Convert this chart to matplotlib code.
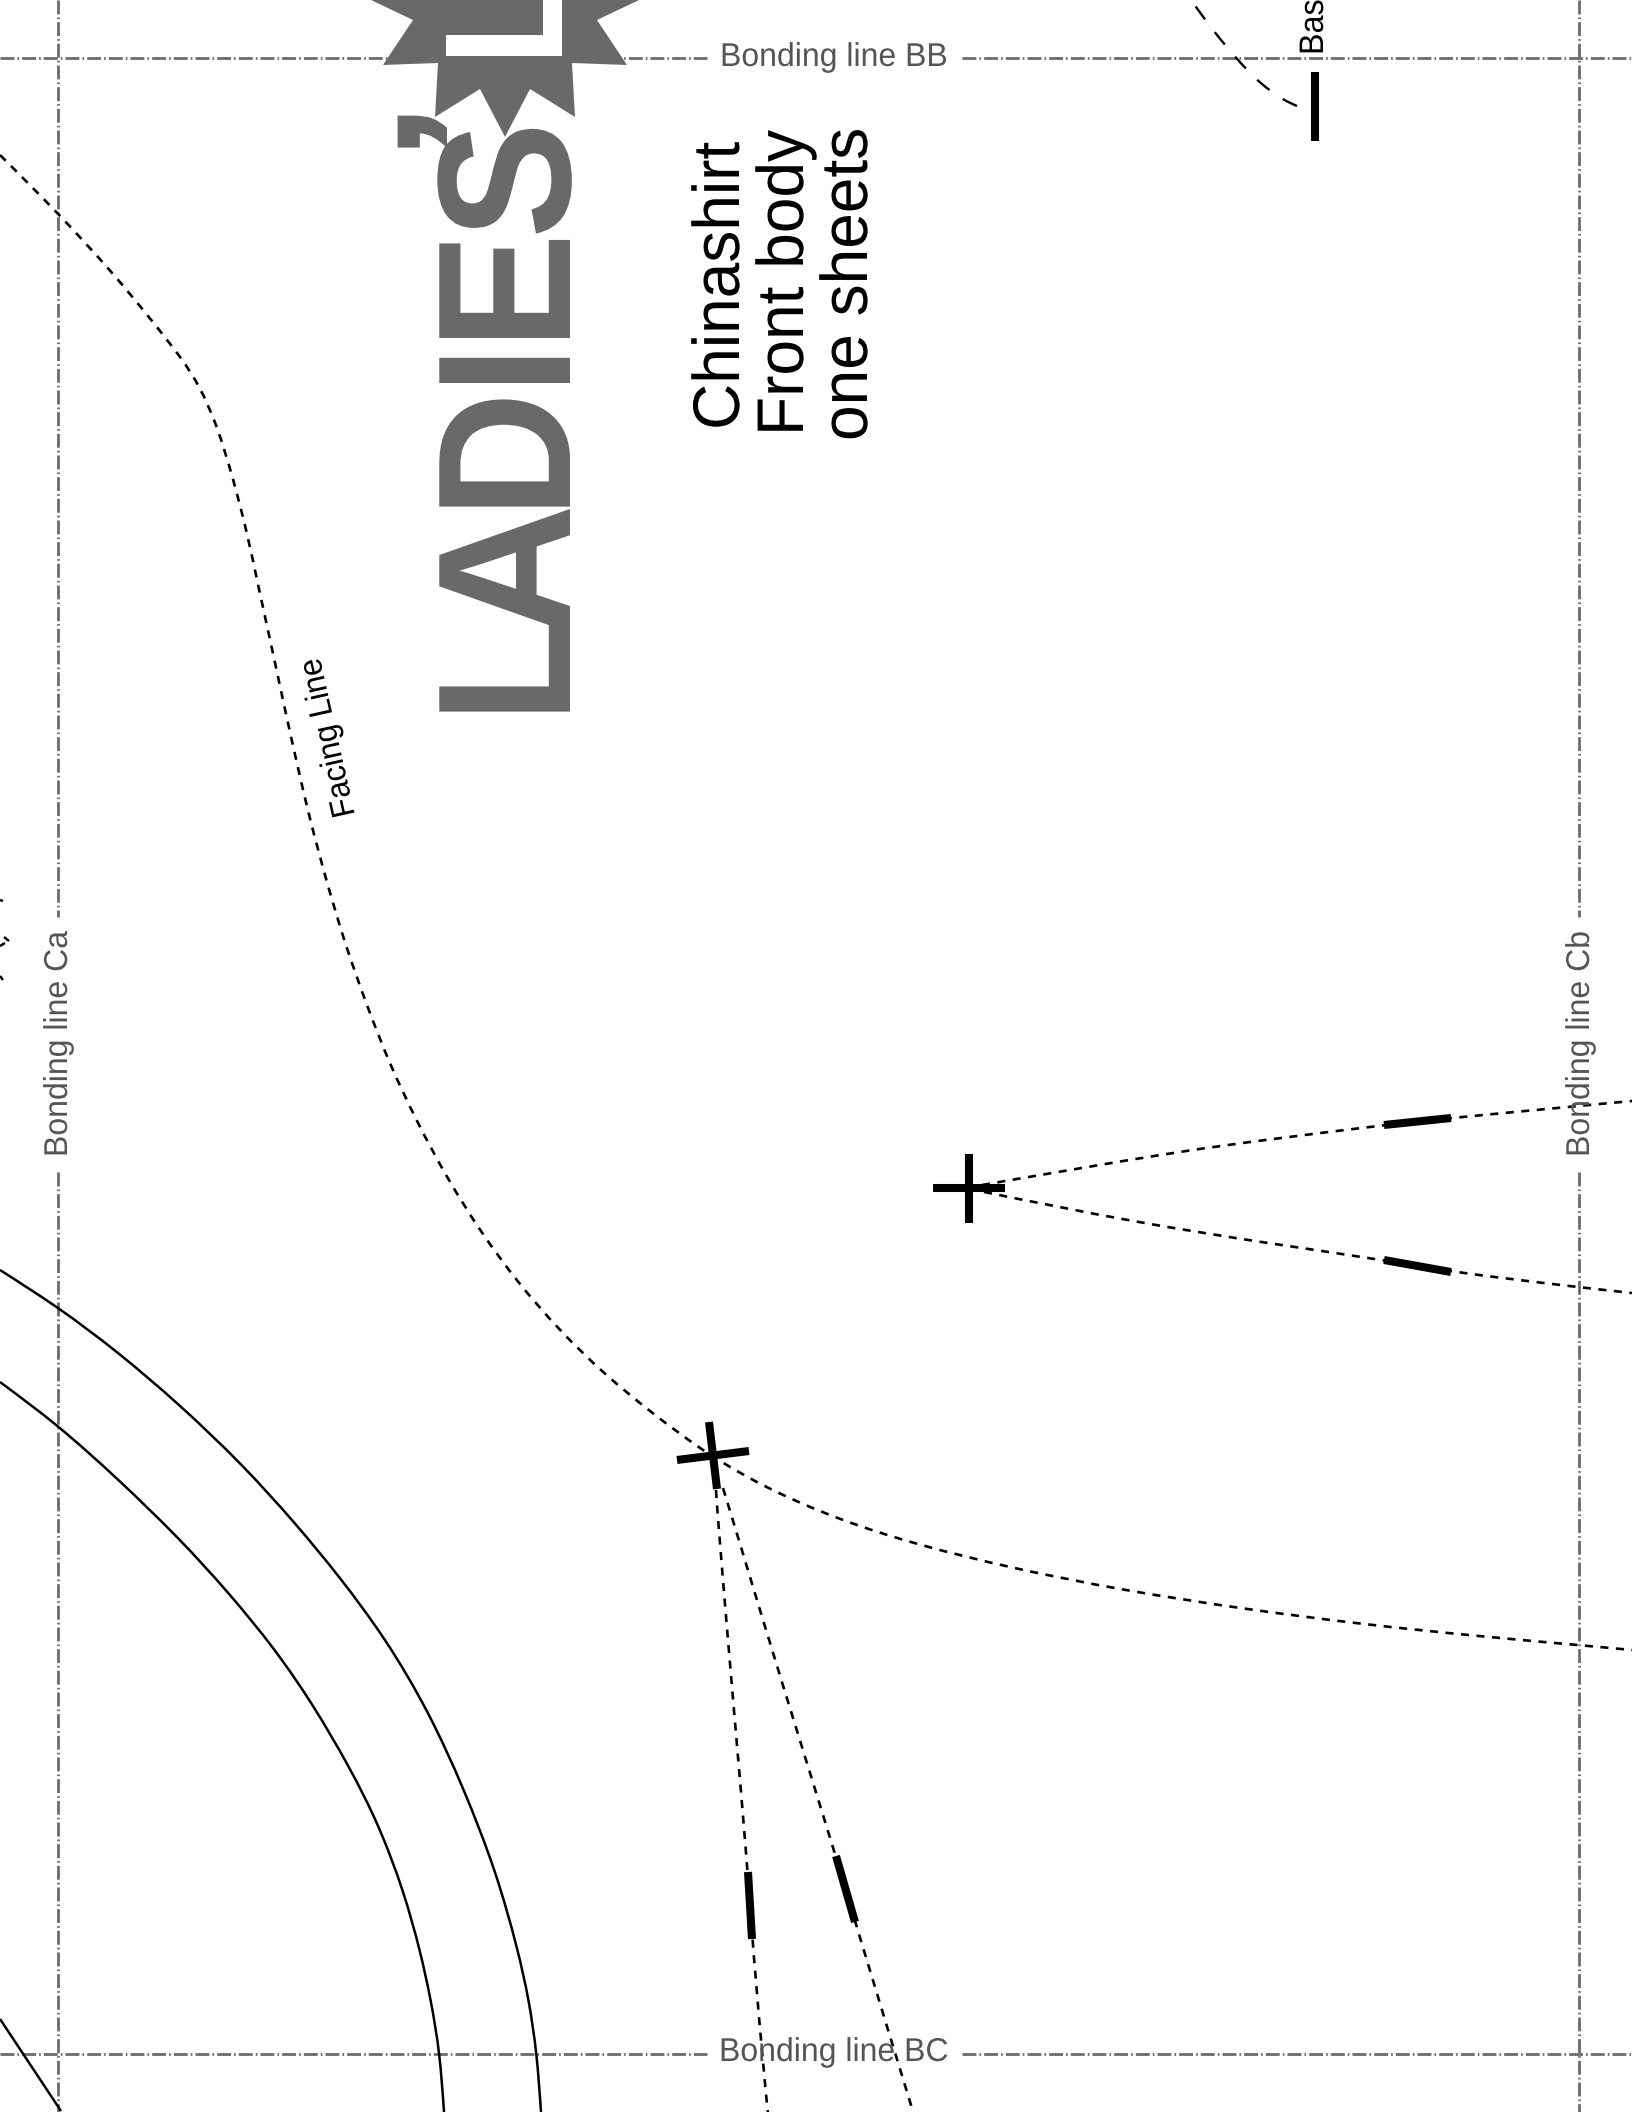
import numpy as np
import matplotlib
matplotlib.use("Agg")
import matplotlib.pyplot as plt
import matplotlib.patheffects as pe
from matplotlib.patches import PathPatch
from matplotlib.path import Path

plt.rcParams['font.family'] = ['Liberation Sans', 'DejaVu Sans']
plt.rcParams['lines.scale_dashes'] = False

# guide lines, read in page pixels
guide_h_y = [58, 2054]
guide_v_x = [58, 1579]
guide_h_spans = [(0, 707), (962, 1632)]
guide_v_spans = [(0, 917), (1172, 2112)]

# curves
facing_line = [(0, 155), (58, 213), (113, 273), (153, 322), (183, 360), (200, 387), (217, 425), (233, 478),
               (247, 532), (258, 585), (270, 639), (285, 710), (298, 768), (310, 820), (327, 883), (345, 944),
               (367, 1006), (390, 1065), (417, 1122), (447, 1178), (480, 1231), (518, 1283), (560, 1331),
               (605, 1375), (657, 1417), (698, 1447), (723, 1463), (766, 1488), (839, 1520), (918, 1545),
               (1011, 1568), (1121, 1590), (1244, 1609), (1360, 1624), (1476, 1636), (1578, 1645), (1632, 1650)]
base_curve = [(1297, 106), (1283, 100), (1258, 82), (1236, 58), (1215, 33), (1196, 7), (1191, 0)]
dart_upper = [(982, 1185), (1180, 1151), (1273, 1139), (1384, 1125), (1451, 1118), (1578, 1106), (1632, 1101)]
dart_lower = [(984, 1192), (1133, 1222), (1273, 1244), (1384, 1260), (1451, 1272), (1577, 1287), (1632, 1293)]
dart_left = [(716, 1490), (719, 1533), (733, 1700), (748, 1872), (752, 1939), (767, 2107), (768, 2112)]
dart_right = [(723, 1488), (738, 1537), (785, 1693), (836, 1856), (855, 1922), (912, 2108), (913, 2112)]

arc_outer = [(0, 1270), (58, 1307), (118, 1352), (179, 1404), (243, 1465), (296, 1524), (339, 1576), (386, 1639),
             (429, 1712), (464, 1789), (496, 1871), (518, 1950), (529, 2000), (537, 2054), (541, 2112)]
arc_inner = [(0, 1382), (58, 1425), (118, 1479), (179, 1538), (229, 1593), (275, 1649), (314, 1706), (350, 1768),
             (379, 1825), (404, 1892), (420, 1950), (431, 2000), (440, 2054), (444, 2112)]
corner_line = [(0, 2019), (61, 2111)]
edge_bits = [[(0, 900), (3, 901)], [(4, 937), (9, 941)], [(0, 946), (5, 943)], [(0, 976), (3, 980)]]

# thick marks
bars = [[(1314.5, 72), (1314.5, 141)], [(1384, 1125), (1451, 1118)], [(1384, 1260), (1451, 1272)],
        [(748, 1872), (752, 1939)], [(836, 1856), (855, 1922)],
        [(933, 1188), (1005, 1188)], [(969, 1154), (969, 1223)],
        [(677, 1460), (749, 1451)], [(709, 1422), (717, 1489)]]

star = [(639, 0), (597, 20), (627, 65), (572, 63), (575, 117), (530, 89), (505, 137), (480, 89), (435, 117),
        (438, 63), (383, 65), (413, 20), (371, 0)]

# sheet labels
sheet_lines = ['Chinashirt', 'Front body', 'one sheets']
sheet_x = [739, 803, 867]
sheet_y = [430, 436, 441]
bond_labels = ['Bonding line BB', 'Bonding line BC', 'Bonding line Ca', 'Bonding line Cb']
bond_x = [720, 719, 67, 1589]
bond_y = [66, 2061, 1157, 1157]
bond_rot = [0, 0, 90, 90]

ladies_lefts = [0, 79, 205, 328.6, 373.6, 478]
ladies_adv = [61.1, 133.3, 205.5, 233.3, 300]
ladies_sx = [0.92, 0.97, 0.92, 0.92, 0.92, 0.92]


class Squeeze(pe.AbstractPathEffect):
    # squeezes glyphs along the baseline, the reference text is condensed
    def __init__(self, sx, em=None, lefts=None, adv=()):
        super().__init__()
        self.sx, self.em, self.lefts, self.adv = sx, em, lefts, adv

    def draw_path(self, renderer, gc, tpath, affine, rgbFace=None):
        verts = tpath.vertices.copy()
        codes = tpath.codes
        if self.lefts is None:
            verts[:, 0] *= self.sx
        else:
            starts = list(np.flatnonzero(codes == Path.MOVETO)) + [len(codes)]
            glyph = np.zeros(len(codes), dtype=int)
            for a, b in zip(starts[:-1], starts[1:]):
                keep = codes[a:b] != Path.CLOSEPOLY
                glyph[a:b] = np.searchsorted(self.adv, verts[a:b][keep, 0].mean())
            keep = codes != Path.CLOSEPOLY
            unit = self.em / 100
            sxs = self.sx if np.ndim(self.sx) else [self.sx] * len(self.lefts)
            for i, left in enumerate(self.lefts):
                mask = glyph == i
                verts[mask, 0] = (verts[mask, 0] - verts[mask & keep, 0].min()) * sxs[i] + left / unit
        renderer.draw_path(gc, Path(verts, codes), affine, rgbFace)


def smooth(pts):
    # cubic b-spline through the read points, written as bezier segments
    pts = np.array(pts, dtype=float)
    if len(pts) == 2:
        return Path(pts, [Path.MOVETO, Path.LINETO])
    p = np.vstack([2 * pts[0] - pts[1], pts, 2 * pts[-1] - pts[-2]])
    verts = [(p[0] + 4 * p[1] + p[2]) / 6]
    codes = [Path.MOVETO]
    for i in range(1, len(p) - 2):
        verts += [(2 * p[i] + p[i + 1]) / 3, (p[i] + 2 * p[i + 1]) / 3, (p[i] + 4 * p[i + 1] + p[i + 2]) / 6]
        codes += [Path.CURVE4, Path.CURVE4, Path.CURVE4]
    return Path(verts, codes)


def draw_curve(ax, pts, lw, dashes=None):
    ls = '-' if dashes is None else (0, dashes)
    ax.add_patch(PathPatch(smooth(pts), fill=False, edgecolor='black', lw=lw, linestyle=ls,
                           capstyle='butt', zorder=2))


def label(ax, x, y, s, px, sx, color, rot, weight='normal', effect=None, zorder=6):
    t = ax.text(x, y, s, fontsize=px * 0.72, color=color, rotation=rot, rotation_mode='anchor',
                ha='left', va='baseline', fontweight=weight, zorder=zorder)
    t.set_path_effects([effect if effect is not None else Squeeze(sx)])
    return t


fig = plt.figure(figsize=(16.32, 21.12), dpi=100)
ax = fig.add_axes([0, 0, 1, 1])
ax.set_xlim(0, 1632)
ax.set_ylim(2112, 0)
ax.axis('off')

# bonding guides
grid_dash = (0, (10, 2.2, 1.2, 2.2))
for y in guide_h_y:
    for a, b in guide_h_spans:
        ax.plot([a, b], [y, y], color='#6b6b6b', lw=2.0, linestyle=grid_dash, dash_capstyle='butt', zorder=1)
for x in guide_v_x:
    for a, b in guide_v_spans:
        ax.plot([x, x], [a, b], color='#6b6b6b', lw=2.0, linestyle=grid_dash, dash_capstyle='butt', zorder=1)

# dashed pattern lines
for curve in [facing_line, dart_upper, dart_lower, dart_left, dart_right]:
    draw_curve(ax, curve, 1.9, (5.8, 5.4))
draw_curve(ax, base_curve, 1.7, (11.5, 11.5))

# solid pattern lines
draw_curve(ax, arc_outer, 1.8)
draw_curve(ax, arc_inner, 1.8)
draw_curve(ax, corner_line, 1.8)
for bit in edge_bits:
    ax.plot([p[0] for p in bit], [p[1] for p in bit], color='black', lw=1.8, solid_capstyle='butt', zorder=2)

for bar in bars:
    ax.plot([p[0] for p in bar], [p[1] for p in bar], color='black', lw=5.8, solid_capstyle='butt', zorder=3)

# badge
ax.fill([p[0] for p in star], [p[1] for p in star], color='#696969', lw=0, zorder=4)
label(ax, 562, 56, 'L', 168, 0.85, 'white', 90, 'bold', Squeeze(0.85, 168, [0], ()), zorder=5)

label(ax, 570, 711.6, 'LADIES', 190, 0.92, '#696969', 90, 'bold',
      Squeeze(ladies_sx, 190, ladies_lefts, ladies_adv), zorder=4)
label(ax, 518, 148, '’', 175, 1.3, '#696969', 90, 'bold', Squeeze(1.3, 175, [0], ()), zorder=4)

for s, x, y in zip(sheet_lines, sheet_x, sheet_y):
    label(ax, x, y, s, 66, 0.97, 'black', 90)

for s, x, y, r in zip(bond_labels, bond_x, bond_y, bond_rot):
    label(ax, x, y, s, 33, 0.97, '#555555', r)

label(ax, 355, 815, 'Facing Line', 33, 0.95, 'black', 102.6)
label(ax, 1323, 55, 'Bas', 34, 0.95, 'black', 90)

fig.savefig('out.png', dpi=100, facecolor='white')
